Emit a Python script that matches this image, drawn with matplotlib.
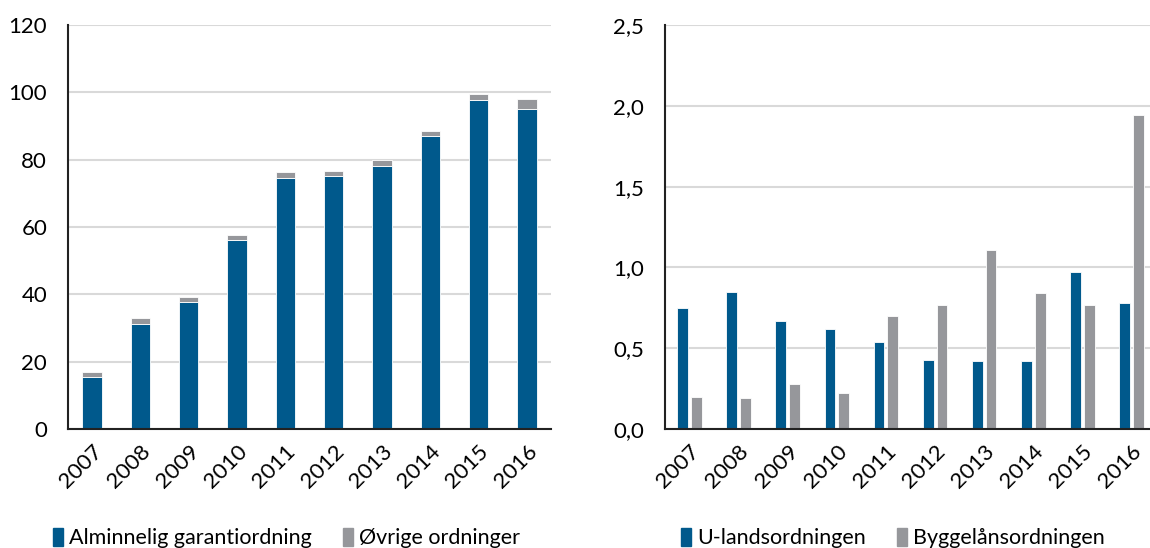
import numpy as np
import matplotlib.pyplot as plt
from matplotlib.ticker import FuncFormatter
from matplotlib.patches import Patch

years = ['2007', '2008', '2009', '2010', '2011', '2012', '2013', '2014', '2015', '2016']

# left panel: stacked
alminnelig = [15.5, 31.3, 37.8, 56.2, 74.5, 75.1, 78.2, 86.9, 97.6, 95.0]
ovrige = [1.3, 1.7, 1.4, 1.3, 1.7, 1.5, 1.8, 1.5, 1.8, 3.0]

# right panel: grouped
u_land = [0.75, 0.85, 0.67, 0.62, 0.54, 0.43, 0.42, 0.42, 0.97, 0.78]
byggelan = [0.20, 0.19, 0.28, 0.22, 0.70, 0.77, 1.11, 0.84, 0.77, 1.94]

blue = '#00598c'
grey = '#96979b'
gridc = '#d9d9d9'
axc = '#222222'

plt.rcParams['font.family'] = ['Lato', 'DejaVu Sans']
plt.rcParams['font.size'] = 16

fig = plt.figure(figsize=(11.5, 5.48), dpi=100)
ax1 = fig.add_axes([68/1150, 119/548, 483/1150, 404/548])
ax2 = fig.add_axes([665/1150, 119/548, 491/1150, 404/548])

x = np.arange(len(years))

ax1.bar(x, alminnelig, width=0.4, color=blue, edgecolor='white', linewidth=0.6, zorder=3)
ax1.bar(x, ovrige, width=0.4, bottom=alminnelig, color=grey, edgecolor='white', linewidth=0.6, zorder=3)
ax1.set_ylim(0, 120)
ax1.set_yticks(range(0, 121, 20))

off = 0.14
ax2.bar(x - off, u_land, width=0.22, color=blue, edgecolor='white', linewidth=0.6, zorder=3)
ax2.bar(x + off, byggelan, width=0.22, color=grey, edgecolor='white', linewidth=0.6, zorder=3)
ax2.set_ylim(0, 2.5)
ax2.set_yticks(np.arange(0, 2.51, 0.5))
ax2.yaxis.set_major_formatter(FuncFormatter(lambda v, p: f'{v:.1f}'.replace('.', ',')))

for ax in (ax1, ax2):
    ax.set_xlim(-0.5, len(years) - 0.5)
    ax.set_xticks(x)
    ax.set_xticklabels(years, rotation=45, ha='right', rotation_mode='anchor')
    ax.tick_params(axis='x', length=0, pad=9)
    ax.tick_params(axis='y', length=0, pad=15)
    ax.grid(axis='y', color=gridc, linewidth=1.5, zorder=0)
    for s in ('top', 'right'):
        ax.spines[s].set_visible(False)
    for s in ('left', 'bottom'):
        ax.spines[s].set_color(axc)
        ax.spines[s].set_linewidth(1.5)
        ax.spines[s].set_zorder(4)

leg_kw = dict(loc='lower left', frameon=False, ncol=2, handlelength=0.5, handleheight=0.85,
              handletextpad=0.25, columnspacing=1.45, borderaxespad=0, fontsize=15.5)
fig.legend(handles=[Patch(color=blue, label='Alminnelig garantiordning'),
                    Patch(color=grey, label='Øvrige ordninger')],
           bbox_to_anchor=(44/1150, -9/548), **leg_kw)
fig.legend(handles=[Patch(color=blue, label='U-landsordningen'),
                    Patch(color=grey, label='Byggelånsordningen')],
           bbox_to_anchor=(672/1150, -9/548), **leg_kw)

fig.savefig('out.png', dpi=100)
